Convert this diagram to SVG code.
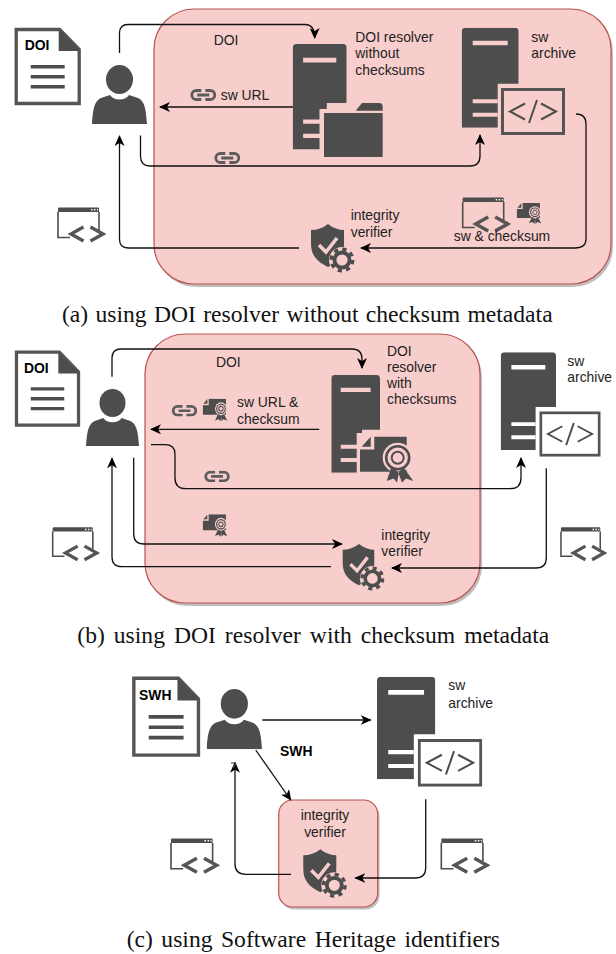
<svg xmlns="http://www.w3.org/2000/svg" width="616" height="954" viewBox="0 0 616 954">
<style>
.panel{fill:#f8cecc;stroke:#b85450;stroke-width:1.2}
.shadow{fill:#000;fill-opacity:.25}
.wire{fill:none;stroke:#111;stroke-width:1.3;marker-end:url(#tip)}
.t{font-family:"Liberation Sans",Arial,sans-serif;font-size:13.9px;fill:#222}
.b{font-family:"Liberation Sans",Arial,sans-serif;font-size:13.9px;font-weight:bold;fill:#000}
.cap{font-family:"Liberation Serif","Times New Roman",serif;font-size:23.6px;fill:#111}
.ink{fill:#4d4d4d}
.line{fill:none;stroke:#4d4d4d}
</style>
<defs>
<marker id="tip" viewBox="0 0 11 10" refX="10" refY="5" markerWidth="11" markerHeight="10" markerUnits="userSpaceOnUse" orient="auto"><path d="M0 0L11 5L0 10L3 5Z" fill="#000"/></marker>
<symbol id="doc" viewBox="0 0 66 77" preserveAspectRatio="none" overflow="visible">
<path d="M1.500 1.500H45L64.500 21.500V75.500H1.500Z" fill="#fff" stroke="#555" stroke-width="3.300"/>
<path d="M44 1.500L64.500 21.500V23H44Z" class="ink"/>
<path d="M16 38.700H50M16 48.700H50M16 58.700H50" class="line" stroke-width="3.500"/>
</symbol>
<symbol id="person" viewBox="0 0 55 59" preserveAspectRatio="none">
<ellipse cx="27.500" cy="14.500" rx="13.500" ry="14.500" class="ink"/>
<path d="M0 59C1 42 3 36 9 33L18 30C22 36 33 36 37 30L46 33C52 36 54 42 55 59Z" class="ink"/>
</symbol>
<symbol id="server" viewBox="0 0 57 100" preserveAspectRatio="none">
<path d="M4 0H53Q57 0 57 4V56H36V100H0V4Q0 0 4 0Z" class="ink"/>
<path d="M11 13H46V17.500H11ZM11 71.500H36V75.500H11ZM11 85H36V89H11Z" fill="currentColor"/>
</symbol>
<symbol id="code" viewBox="0 0 64 47" preserveAspectRatio="none">
<rect x="1.500" y="1.500" width="61" height="44" fill="currentColor" stroke="#555" stroke-width="3"/>
<path d="M24 15.500L9 23.500L24 31.500M40 15.500L55 23.500L40 31.500M36 12L28 35" class="line" stroke-width="2"/>
</symbol>
<symbol id="window" viewBox="0 0 48 35" preserveAspectRatio="none" overflow="visible">
<path d="M1 5V30.500H13M42 5V23" class="line" stroke-width="1.600"/>
<path d="M2 0.500H41Q42 0.500 42 1.500V5H1V1.500Q1 0.500 2 0.500Z" class="ink"/>
<path d="M26.500 20L14 27L26.500 34M33.500 20L46 27L33.500 34" fill="none" stroke="#555" stroke-width="3.400"/>
<path d="M34 2.800H35.500M37 2.800H38.500M40 2.800H41" stroke="#fff" stroke-width="1.500" fill="none"/>
</symbol>
<symbol id="link" viewBox="0 0 28 12" preserveAspectRatio="none">
<path d="M12 1.500H7A4.500 4.500 0 0 0 7 10.500H12M16 1.500H21A4.500 4.500 0 0 1 21 10.500H16M8 6H20" fill="none" stroke="#5c5c5c" stroke-width="2.800"/>
</symbol>
<symbol id="cert" viewBox="0 0 80 63" preserveAspectRatio="none">
<path d="M18 0H70V45H0V18H18Z" class="ink"/>
<path d="M2 14L14 1V14Z" class="ink"/>
<circle cx="55" cy="28" r="18" fill="currentColor"/>
<circle cx="55" cy="28" r="13" fill="none" stroke="#4d4d4d" stroke-width="3.500"/>
<circle cx="55" cy="28" r="6.500" fill="none" stroke="#4d4d4d" stroke-width="3"/>
<path d="M46 43L37 61L48 57L54 63L56 47ZM64 43L74 61L62 57L57 63L55 47Z" class="ink"/>
</symbol>
<symbol id="verifier" viewBox="0 0 46 46" overflow="visible">
<path d="M17 0C22 4 28 6 33 6V20C33 32 27 38 17 43C7 38 0 32 0 20V6C6 6 12 4 17 0Z" class="ink"/>
<path d="M8 21L15 28L26 14" fill="none" stroke="currentColor" stroke-width="3.500"/>
<circle cx="31" cy="36" r="13" fill="currentColor"/>
<circle cx="31" cy="36" r="7.500" fill="none" stroke="#4d4d4d" stroke-width="3.800"/>
<circle cx="31" cy="36" r="10.800" fill="none" stroke="#4d4d4d" stroke-width="3.400" stroke-dasharray="4.200 4.283"/>
</symbol>
</defs>

<g id="panel-a"><rect x="156" y="12" width="457" height="275" rx="40" class="shadow"/><rect x="154" y="9" width="457" height="275" rx="40" class="panel"/></g>
<g id="panel-b"><rect x="147" y="337" width="335" height="269" rx="40" class="shadow"/><rect x="145" y="334" width="335" height="269" rx="40" class="panel"/></g>
<g id="panel-c"><rect x="280.500" y="802.500" width="99" height="107" rx="14" class="shadow"/><rect x="278.700" y="800" width="99" height="107" rx="14" class="panel"/></g>

<g id="connectors">
<path class="wire" d="M119.500 53V33Q119.500 24.500 128 24.500H305Q314.700 24.500 314.700 38"/>
<path class="wire" d="M293 107H160"/>
<path class="wire" d="M140.500 135.500V156Q140.500 166 150 166H470Q480 166 480 156V135"/>
<path class="wire" d="M299 248H128Q119.500 248 119.500 239V136"/>
<path class="wire" d="M576 114Q586 114 586 124V239Q586 248 575 248H361"/>
<path class="wire" d="M112 376.700V358Q112 349 121 349H352Q362 349 362 359V368"/>
<path class="wire" d="M319.300 429.300H151"/>
<path class="wire" d="M151 444.700H165Q175 444.700 175 454V478Q175 488.700 186 488.700H510Q521 488.700 521 478V458"/>
<path class="wire" d="M133.700 457.700V534Q133.700 544 144 544H342"/>
<path class="wire" d="M331 566.700H122Q112 566.700 112 557V458.300"/>
<path class="wire" d="M546.300 468.300V558Q546.300 568 536 568H392"/>
<path class="wire" d="M262.300 720H370.700"/>
<path class="wire" d="M255.700 750L290.700 800"/>
<path class="wire" d="M291 874.300H246Q235 874.300 235 864V762.700"/>
<path class="wire" d="M425.700 799.300V868Q425.700 878 415 878H355.300"/>
<path d="M231 763H235.500V765L233 768" fill="none" stroke="#333" stroke-width="1.200"/>
</g>

<g id="a-doc"><use href="#doc" x="14.700" y="28" width="66" height="77"/><text class="b" x="24.700" y="50">DOI</text></g>
<g id="a-user"><use href="#person" x="92" y="65" width="55" height="59"/></g>
<g id="a-resolver" style="color:#f8cecc">
<use href="#server" x="292.700" y="44" width="54" height="105.500"/>
<rect x="319.500" y="109" width="30" height="44" fill="#f8cecc"/>
<path d="M324 113H382.700V157H324ZM355.700 110.700L362 103H379Q382.700 103 382.700 107V110.700Z" class="ink"/>
<text class="t" x="355.300" y="41.700">DOI resolver</text><text class="t" x="355.300" y="58">without</text><text class="t" x="355.300" y="74.500">checksums</text>
</g>
<g id="a-archive" style="color:#f8cecc">
<use href="#server" x="461.700" y="27.700" width="57" height="100"/><use href="#code" x="501" y="88" width="64" height="47"/>
<text class="t" x="531.300" y="41.700">sw</text><text class="t" x="531.300" y="58">archive</text>
</g>
<g id="a-verifier" style="color:#f8cecc"><use href="#verifier" x="311" y="224" width="46" height="46"/><text class="t" x="350.700" y="220">integrity</text><text class="t" x="350.700" y="236.700">verifier</text></g>
<g id="a-labels" style="color:#f8cecc">
<text class="t" x="213.700" y="45">DOI</text>
<use href="#link" x="189.300" y="89" width="28" height="12"/><text class="t" x="220.700" y="100">sw URL</text>
<use href="#link" x="213.300" y="152" width="28" height="12"/>
<use href="#window" x="57" y="207" width="48" height="35"/>
<use href="#window" x="461.700" y="197" width="48" height="35"/>
<use href="#cert" x="516.700" y="203" width="26.500" height="21"/>
<text class="t" x="453.700" y="240.700">sw &amp; checksum</text>
</g>
<text class="cap" x="62" y="322" word-spacing="1.400">(a) using DOI resolver without checksum metadata</text>

<g id="b-doc"><use href="#doc" x="15" y="350.700" width="65" height="76"/><text class="b" x="24" y="373">DOI</text></g>
<g id="b-user"><use href="#person" x="86" y="389" width="53" height="57"/></g>
<g id="b-resolver" style="color:#f8cecc">
<use href="#server" x="331.300" y="375" width="48.700" height="97.700"/>
<rect x="356.700" y="433" width="26" height="42" fill="#f8cecc"/>
<path d="M361.700 446.700L370.700 436.700V446.700ZM374.300 436.700H406.700V471.700H360V449.500H374.300Z" class="ink"/>
<circle cx="397.700" cy="457.700" r="15" fill="#f8cecc"/>
<circle cx="397.700" cy="457.700" r="11.500" fill="none" stroke="#4d4d4d" stroke-width="2.600"/>
<circle cx="397.700" cy="457.700" r="6" fill="none" stroke="#4d4d4d" stroke-width="2"/>
<path d="M391 468L386.700 481L393.500 478.500L397 482.500L399 472ZM404 468L413.300 481L406 478.500L402 482.500L398 472Z" class="ink"/>
<text class="t" x="387" y="356">DOI</text><text class="t" x="387" y="372">resolver</text><text class="t" x="387" y="388">with</text><text class="t" x="387" y="404">checksums</text>
</g>
<g id="b-archive" style="color:#fff">
<use href="#server" x="500.700" y="352.300" width="55.300" height="97.700"/><use href="#code" x="539.300" y="411.300" width="61.400" height="45.400"/>
<text class="t" x="567.300" y="365.700">sw</text><text class="t" x="567.300" y="381.700">archive</text>
</g>
<g id="b-verifier" style="color:#f8cecc"><use href="#verifier" x="342.700" y="544" width="44" height="44"/><text class="t" x="381.300" y="540">integrity</text><text class="t" x="381.300" y="555.700">verifier</text></g>
<g id="b-labels" style="color:#f8cecc">
<text class="t" x="216" y="366.700">DOI</text>
<use href="#link" x="170.700" y="405" width="27.500" height="11.500"/>
<use href="#cert" x="202.700" y="398.700" width="26.600" height="22.600"/>
<text class="t" x="237" y="406.700">sw URL &amp;</text><text class="t" x="237" y="424">checksum</text>
<use href="#link" x="203.300" y="470.700" width="27.500" height="11.500"/>
<use href="#cert" x="202.700" y="514.300" width="26.500" height="22.500"/>
<use href="#window" x="51.700" y="526.700" width="47" height="34"/>
<use href="#window" x="560" y="526.700" width="46" height="34"/>
</g>
<text class="cap" x="77.300" y="642.700" word-spacing="3.100">(b) using DOI resolver with checksum metadata</text>

<g id="c-doc"><use href="#doc" x="132.300" y="676.700" width="67.700" height="80"/><text class="b" x="139" y="700">SWH</text></g>
<g id="c-user"><use href="#person" x="206.700" y="689" width="55.300" height="60.300"/></g>
<g id="c-archive" style="color:#fff">
<use href="#server" x="377" y="676.700" width="58.300" height="102.600"/><use href="#code" x="417.700" y="739" width="64.600" height="47.700"/>
<text class="t" x="448.300" y="690">sw</text><text class="t" x="448.300" y="707.700">archive</text>
</g>
<g id="c-verifier" style="color:#f8cecc"><use href="#verifier" x="303.300" y="849.300" width="46" height="46"/><text class="t" x="325" y="820" text-anchor="middle">integrity</text><text class="t" x="325" y="837" text-anchor="middle">verifier</text></g>
<g id="c-labels">
<text class="b" x="280" y="755.700">SWH</text>
<use href="#window" x="170" y="838" width="48.700" height="35.300"/>
<use href="#window" x="440.300" y="838" width="48.700" height="35.300"/>
</g>
<text class="cap" x="126.700" y="947" word-spacing="2.600">(c) using Software Heritage identifiers</text>
</svg>
